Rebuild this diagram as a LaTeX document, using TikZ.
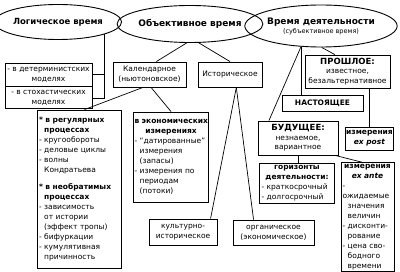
\documentclass[tikz,border=0pt]{standalone}
\usepackage{fontspec}
\setmainfont{DejaVu Sans}
\usetikzlibrary{shapes.geometric,calc}
\newcommand{\myind}{\phantom{-\ }}
\begin{document}
\begin{tikzpicture}[x=1pt,y=-1pt,
  bx/.style={draw, line width=0.9pt, inner sep=2pt, font=\fontsize{7.5}{10}\selectfont, align=center},
  el/.style={ellipse, draw, line width=0.9pt, inner sep=0pt, align=center, font=\fontsize{9}{10}\selectfont},
  ln/.style={line width=0.7pt}]
\useasboundingbox[fill=white] (0,0) rectangle (400,272);

% ellipses
\node[el, font=\fontsize{8.5}{10}\selectfont, minimum width=106pt, minimum height=35pt] (log) at (58,22) {\textbf{Логическое время}};
\node[el, minimum width=116pt, minimum height=37pt] (obj) at (190,24) {\textbf{Объективное время}};
\node[el, minimum width=136pt, minimum height=42pt] (act) at (321,26) {\textbf{Время деятельности}\\[-1pt]{\fontsize{6.5}{7.5}\selectfont(субъективное время)}};

% left column
\node[bx, inner sep=1pt, minimum width=87pt, minimum height=23pt] (det) at (48.5,74.5) {- в детерминистских\\моделях};
\node[bx, inner sep=1pt, minimum width=87pt, minimum height=22pt, anchor=north] (sto) at (det.south) {- в стохастических\\моделях};

% objective branch
\node[bx, minimum width=73pt, minimum height=25pt] (kal) at (149.5,74.5) {Календарное\\(ньютоновское)};
\node[bx, minimum width=64pt, minimum height=25pt] (ist) at (230,74.5) {Историческое};

\node[bx, text width=80pt, align=left, minimum height=158pt] (reg) at (79,189) {%
\textbf{* в регулярных}\\
\myind\textbf{процессах}\\
- кругообороты\\
- деловые циклы\\
- волны\\
\myind Кондратьева\\[7pt]
\textbf{* в необратимых}\\
\myind\textbf{процессах}\\
- зависимость\\
\myind от истории\\
\myind (эффект тропы)\\
- бифуркации\\
- кумулятивная\\
\myind причинность};

\node[bx, inner sep=1pt, text width=73pt, align=left, minimum height=90pt] (econ) at (171,157) {%
\mbox{\textbf{в экономических}}\\
\makebox[\linewidth]{\textbf{измерениях}}\\
- ``датированные''\\
\myind измерения\\
\myind (запасы)\\
- измерения по\\
\myind периодам\\
\myind (потоки)};

\node[bx, minimum width=68pt, minimum height=26pt] (kult) at (183,232) {культурно-\\историческое};
\node[bx, minimum width=81pt, minimum height=25pt] (org) at (273.5,232.5) {органическое\\(экономическое)};

% activity branch
\node[bx, font=\fontsize{7.5}{9.5}\selectfont, minimum width=85pt, minimum height=33pt] (past) at (347.5,71.5) {{\fontsize{8.5}{10}\selectfont\textbf{ПРОШЛОЕ:}}\\известное,\\безальтернативное};
\node[bx, minimum width=81pt, minimum height=16pt] (now) at (322.5,103) {\textbf{НАСТОЯЩЕЕ}};
\node[bx, font=\fontsize{7.5}{9.5}\selectfont, minimum width=80pt, minimum height=34pt] (fut) at (298,138) {{\fontsize{8.5}{10}\selectfont\textbf{БУДУЩЕЕ:}}\\незнаемое,\\вариантное};
\node[bx, inner sep=1pt, minimum width=45pt, minimum height=23pt] (post) at (369.5,138.5) {\textbf{измерения}\\\textbf{\textit{ex post}}};

\node[bx, text width=71pt, align=left, minimum height=40pt] (hor) at (297,183) {%
\makebox[\linewidth]{\textbf{горизонты}}\\
\makebox[\linewidth]{\textbf{деятельности:}}\\
- краткосрочный\\
- долгосрочный};

\node[bx, inner sep=1.5pt, text width=50pt, align=left, minimum height=104pt] (ante) at (367.5,217) {%
\makebox[\linewidth]{\textbf{измерения}}\\
\makebox[\linewidth]{\textbf{\textit{ex ante}}}\\
- ожидаемые\\
\myind значения\\
\myind величин\\
- дисконти-\\
\myind рование\\
- цена сво-\\
\myind бодного\\
\myind времени};

% connectors
\draw[ln] (log.-15) |- (det.east);
\draw[ln] (log.-15) |- (sto.east);
\draw[ln] (obj.-100) -- (kal.62);
\draw[ln] (obj.-65) -- (ist.north);
\draw[ln] (kal.-117) -- (reg.86);
\draw[ln] (kal.-83) -- (econ.north);
\draw[ln] (ist.-64) -- (kult.26);
\draw[ln] (ist.-64) -- (org.147);
\draw[ln] (act.-134) -- (fut.149);
\draw[ln] (act.-134) -- (act.-134 |- now.north);
\draw[ln] (act.-88) -- (past.127);
\draw[ln] (post.north |- past.south) -- (post.north);
\draw[ln] (fut.south) -- (fut.south |- hor.north);
\draw[ln] (fut.-25) -- (ante.96);
\end{tikzpicture}
\end{document}
